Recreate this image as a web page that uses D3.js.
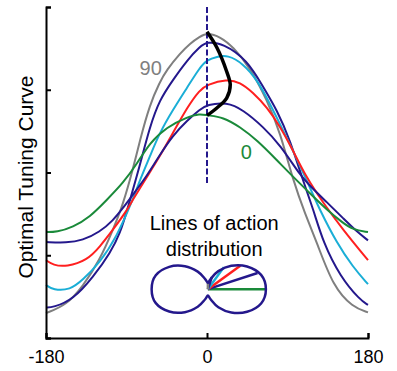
<!DOCTYPE html>
<html>
<head>
<meta charset="utf-8">
<script src="https://cdnjs.cloudflare.com/ajax/libs/d3/7.8.5/d3.min.js"></script>
<style>
  body { margin: 0; background: #fff; }
  text { font-family: "Liberation Sans", Arial, sans-serif; }
</style>
</head>
<body>
<div id="chart"></div>
<script>
// tuning curves, [direction (deg), response]
var curve90 = [[-180,0.30],[-157,0.40],[-139,0.62],[-120,0.94],[-105,1.31],[-94,1.61],[-83,2.03],[-75,2.39],[-64,2.82],[-53,3.09],[-45,3.24],[-30,3.44],[-19,3.56],[-8,3.64],[0,3.69],[15,3.64],[29,3.52],[48,3.27],[67,2.88],[82,2.48],[96,1.91],[110,1.49],[123,1.15],[141,0.62],[163,0.37],[180,0.31]];
var curve72 = [[-180,0.37],[-172,0.37],[-150,0.46],[-127,0.74],[-108,1.03],[-97,1.27],[-89,1.55],[-75,2.09],[-64,2.55],[-53,2.88],[-38,3.12],[-22,3.36],[-8,3.52],[0,3.58],[18,3.56],[45,3.36],[63,3.03],[78,2.76],[93,2.39],[107,1.91],[119,1.55],[130,1.15],[149,0.74],[171,0.46],[180,0.40]];
var curve54 = [[-180,0.64],[-172,0.58],[-153,0.58],[-139,0.70],[-120,0.91],[-101,1.22],[-83,1.67],[-75,1.91],[-64,2.19],[-53,2.48],[-38,2.76],[-22,3.03],[-8,3.27],[0,3.36],[11,3.40],[23,3.42],[40,3.32],[56,3.12],[70,2.84],[85,2.51],[96,2.27],[115,1.82],[126,1.55],[145,1.15],[163,0.86],[180,0.65]];
var curve36 = [[-180,0.94],[-172,0.88],[-157,0.86],[-134,0.94],[-120,1.10],[-105,1.31],[-89,1.55],[-83,1.67],[-67,1.95],[-53,2.19],[-38,2.48],[-22,2.79],[-8,3.00],[0,3.06],[22,3.13],[37,3.09],[51,2.97],[67,2.79],[82,2.55],[96,2.27],[110,1.96],[130,1.63],[152,1.31],[180,0.94]];
var curve18 = [[-180,1.16],[-157,1.15],[-139,1.18],[-120,1.28],[-105,1.42],[-94,1.57],[-83,1.73],[-67,1.96],[-53,2.21],[-38,2.45],[-22,2.63],[-8,2.76],[0,2.82],[22,2.85],[40,2.76],[63,2.55],[82,2.33],[104,1.97],[115,1.84],[134,1.64],[152,1.45],[167,1.29],[180,1.18]];
var curve0 = [[-180,1.28],[-168,1.28],[-150,1.34],[-131,1.46],[-112,1.67],[-94,1.87],[-78,2.11],[-64,2.36],[-45,2.55],[-22,2.67],[-8,2.71],[0,2.69],[18,2.67],[37,2.55],[56,2.39],[78,2.15],[96,1.95],[115,1.75],[134,1.55],[152,1.39],[163,1.31],[180,1.28]];
var peakLocus = [[0,3.70],[11,3.51],[22,3.22],[26,3.06],[22,2.90],[11,2.78],[0,2.69]];

var xTicks = [-180, 0, 180];
var yTicks = [0, 1, 2, 3, 4];

// lines of action distribution (polar)
var lobeAngles = [0,15,30,45,60,75,90,105,120,135,150,165,180,195,210,225,240,255,270,285,300,315,330,345];
var lobeRadius = [1.00,0.95,0.78,0.57,0.36,0.18,0.11,0.18,0.35,0.56,0.77,0.93,0.97,0.93,0.77,0.56,0.35,0.18,0.11,0.18,0.36,0.57,0.78,0.95];
var actionAngles = [0, 18, 36, 54, 72, 90];
var actionLength = [1.00, 0.90, 0.69, 0.47, 0.22, 0.11];

var colors = ["#7f7f7f", "#24188c", "#1aaed6", "#ff1f1f", "#24188c", "#1a8a3a"];
var actionColors = ["#1a8a3a", "#24188c", "#ff1f1f", "#1aaed6", "#24188c", "#7f7f7f"];

var w = 397, h = 371;
var margin = {top: 7, right: 29, bottom: 33, left: 46};
var width = w - margin.left - margin.right;
var height = h - margin.top - margin.bottom;

var svg = d3.select("#chart").append("svg")
  .attr("width", w)
  .attr("height", h)
  .append("g")
  .attr("transform", "translate(" + margin.left + "," + margin.top + ")");

var x = d3.scaleLinear().domain([-180, 180]).range([0, width]);
var y = d3.scaleLinear().domain([0, 4]).range([height, 0]);

var line = d3.line()
  .x(function(d){ return x(d[0]); })
  .y(function(d){ return y(d[1]); })
  .curve(d3.curveBasis);

var curves = [curve90, curve72, curve54, curve36, curve18, curve0];
svg.selectAll(".tuning").data(curves).enter().append("path")
  .attr("class", "tuning")
  .attr("d", line)
  .attr("fill", "none")
  .attr("stroke", function(d, i){ return colors[i]; })
  .attr("stroke-width", 2);

// dashed line at 0
svg.append("line")
  .attr("x1", x(0)).attr("x2", x(0))
  .attr("y1", y(4)).attr("y2", y(1.85))
  .attr("stroke", "#24188c")
  .attr("stroke-width", 2)
  .attr("stroke-dasharray", "6,2.5");

svg.append("path")
  .attr("d", line.curve(d3.curveCatmullRom)(peakLocus))
  .attr("fill", "none")
  .attr("stroke", "#000")
  .attr("stroke-width", 3.5);

svg.append("text").attr("x", x(-63)).attr("y", y(3.18))
  .attr("text-anchor", "middle").attr("font-size", 20).attr("fill", "#7f7f7f").text("90");
svg.append("text").attr("x", x(44)).attr("y", y(2.16))
  .attr("text-anchor", "middle").attr("font-size", 20).attr("fill", "#1a8a3a").text("0");

// axes
var yAxis = svg.append("g")
  .call(d3.axisRight(y).tickValues(yTicks).tickSize(5).tickSizeOuter(5).tickFormat(""));
var xAxis = svg.append("g")
  .attr("transform", "translate(0," + height + ")")
  .call(d3.axisBottom(x).tickValues(xTicks).tickSize(-5).tickSizeOuter(-5).tickPadding(12)
    .tickFormat(function(d){ return String(d); }));
svg.selectAll(".domain, .tick line").attr("stroke", "#000").attr("stroke-width", 2);
xAxis.selectAll("text").attr("font-size", 18).attr("fill", "#000")
  .style("font-family", "'Liberation Sans', Arial, sans-serif");

svg.append("text")
  .attr("transform", "translate(" + (33 - margin.left) + "," + (177 - margin.top) + ") rotate(-90)")
  .attr("text-anchor", "middle")
  .attr("font-size", 21)
  .text("Optimal Tuning Curve");

// inset
svg.append("text").attr("x", x(8)).attr("y", y(1.31))
  .attr("text-anchor", "middle").attr("font-size", 20).text("Lines of action");
svg.append("text").attr("x", x(8)).attr("y", y(0.99))
  .attr("text-anchor", "middle").attr("font-size", 20).text("distribution");

var r = d3.scaleLinear().domain([0, 1]).range([0, 58]);
var inset = svg.append("g")
  .attr("transform", "translate(" + x(1) + "," + y(0.59) + ")");

var lobe = d3.lineRadial()
  .angle(function(d, i){ return (90 - lobeAngles[i]) * Math.PI / 180; })
  .radius(function(d){ return r(d); })
  .curve(d3.curveCardinalClosed);

inset.selectAll(".act").data(actionAngles).enter().append("line")
  .attr("class", "act")
  .attr("x1", 0).attr("y1", 0)
  .attr("x2", function(d, i){ return r(actionLength[i]) * Math.cos(d * Math.PI / 180); })
  .attr("y2", function(d, i){ return -r(actionLength[i]) * Math.sin(d * Math.PI / 180); })
  .attr("stroke", function(d, i){ return actionColors[i]; })
  .attr("stroke-width", 2.5);

inset.append("path")
  .attr("d", lobe(lobeRadius))
  .attr("fill", "none")
  .attr("stroke", "#24188c")
  .attr("stroke-width", 2.5);
</script>
</body>
</html>
